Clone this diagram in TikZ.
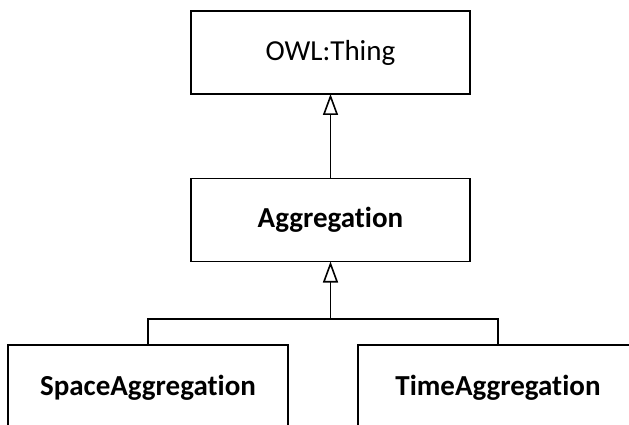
\documentclass[tikz,border=0pt]{standalone}
\usepackage{fontspec}
\setmainfont[Ligatures={NoCommon}]{Carlito}
\usetikzlibrary{arrows.meta}
\begin{document}
\begin{tikzpicture}[x=1pt,y=-1pt,
  cls/.style={draw=black, line width=1.6pt, fill=white, inner sep=0pt,
    minimum width=279pt, minimum height=83pt, font=\fontsize{29}{34}\selectfont},
  inh/.style={line width=1.6pt, -{Triangle[open, length=21pt, width=15pt, fill=white]}, shorten >=-0.8pt},
  conn/.style={line width=1.6pt}]
\useasboundingbox (0,0) rectangle (629,425);
\clip (0,0) rectangle (629,425);
\node[cls] (owl) at (330.5,52.5) {OWL:Thing};
\node[cls] (agg) at (330.5,220) {\textbf{Aggregation}};
\node[cls, minimum width=280pt, minimum height=90pt] (space) at (148,390) {};
\node[cls, minimum width=280pt, minimum height=90pt] (time) at (498,390) {};
\node[font=\fontsize{29}{34}\selectfont] (spacet) at (148,388) {\textbf{SpaceAggregation}};
\node[font=\fontsize{29}{34}\selectfont] (timet) at (498,388) {\textbf{TimeAggregation}};
\coordinate (j) at (330.5,319);
\draw[inh] (agg.north) -- (owl.south);
\draw[inh] (j) -- (agg.south);
\draw[conn] (space.north) |- (j) -| (time.north);
\end{tikzpicture}
\end{document}
